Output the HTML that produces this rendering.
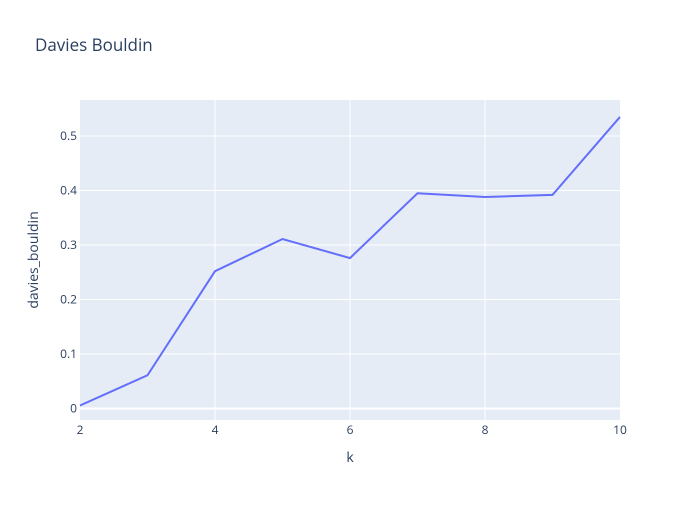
<!DOCTYPE html>
<html><head><meta charset="utf-8"><style>
body{margin:0;background:#fff;font-family:"Liberation Sans",sans-serif;}
svg text{font-family:"Open Sans","Liberation Sans",sans-serif;}
</style></head><body>
<svg id="chart" width="700" height="500" xmlns="http://www.w3.org/2000/svg">
<rect width="700" height="500" fill="#fff"/>
<rect x="80" y="100" width="540" height="320" fill="#e5ecf6"/>
<g id="grid"></g>
<g id="ticks"></g>
<path id="line" fill="none" stroke="#636efa" stroke-width="2"/>
<text x="35" y="51" font-size="17" fill="#2a3f5f">Davies Bouldin</text>
<text x="350" y="462" font-size="14" fill="#2a3f5f" text-anchor="middle">k</text>
<text transform="translate(38,260) rotate(-90)" font-size="14" fill="#2a3f5f" text-anchor="middle">davies_bouldin</text>
</svg>
<script>
const kValues=[2,3,4,5,6,7,8,9,10];
const dbValues=[0.0055,0.061,0.252,0.311,0.276,0.395,0.388,0.392,0.535];
const xTicks=[2,4,6,8,10];
const yTicks=[0,0.1,0.2,0.3,0.4,0.5];
const yTickLabels=["0","0.1","0.2","0.3","0.4","0.5"];
const xs=k=>80+(k-2)*540/8;
const ys=v=>408.5-v*545;
const NS="http://www.w3.org/2000/svg";
const grid=document.getElementById('grid'),ticks=document.getElementById('ticks');
function mk(t,a,p){const e=document.createElementNS(NS,t);for(const k in a)e.setAttribute(k,a[k]);p.appendChild(e);return e;}
xTicks.forEach(k=>{
  if(k!==2&&k!==10){const l=mk('line',{x1:xs(k),x2:xs(k),y1:100,y2:420,stroke:'#fff','stroke-width':1},grid);
  
  }
  const t=mk('text',{x:xs(k),y:434,'font-size':12,fill:'#2a3f5f','text-anchor':'middle'},ticks);t.textContent=k;
  
  
});
yTicks.forEach((v,i)=>{
  const l=mk('line',{x1:80,x2:620,y1:ys(v),y2:ys(v),stroke:'#fff','stroke-width':v===0?2:1},grid);
  
  
  const t=mk('text',{x:77,y:ys(v)+4,'font-size':12,fill:'#2a3f5f','text-anchor':'end'},ticks);t.textContent=yTickLabels[i];
  
  
});
document.getElementById('line').setAttribute('d',kValues.map((k,i)=>(i?'L':'M')+xs(k)+','+ys(dbValues[i])).join(' '));
</script>
</body></html>
